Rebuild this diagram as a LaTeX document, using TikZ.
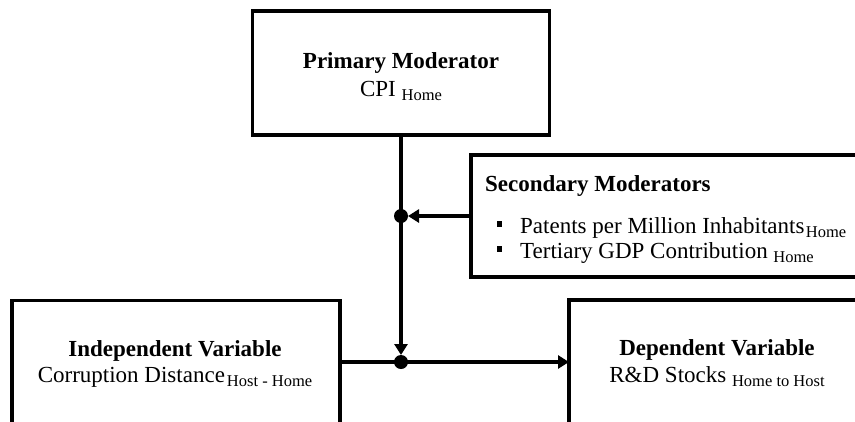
\documentclass[tikz,border=0pt]{standalone}
\usepackage{fontspec}
\setmainfont{Liberation Serif}
\usetikzlibrary{arrows.meta,calc}
\newcommand{\sbs}[1]{\raisebox{-4pt}{\fontsize{16.5}{18}\selectfont #1}}
\newcommand{\sqbul}{\rule[7pt]{5.5pt}{5.5pt}}
\tikzset{
  box/.style={draw=black, line width=3.5pt, rectangle, inner sep=0pt, outer sep=0pt, fill=white},
  txt/.style={anchor=base, inner sep=0pt, font=\fontsize{23}{27}\selectfont},
  conn/.style={line width=3.5pt},
  arr/.style={conn, -{Triangle[length=11pt,width=13pt]}},
  junct/.style={fill=black}
}
\begin{document}
\begin{tikzpicture}[x=1pt,y=-1pt]
\useasboundingbox (0,0) rectangle (855,421);
\clip (0,0) rectangle (855,421);
\fill[white] (0,0) rectangle (855,421);
% boxes
\node[box, minimum width=297pt, minimum height=124pt] (prim) at (401,73) {};
\node[box, minimum width=429pt, minimum height=122pt] (sec) at (685.5,216) {};
\node[box, minimum width=328pt, minimum height=150pt] (indep) at (176,375.7) {};
\node[box, minimum width=331pt, minimum height=150pt] (dep) at (734.5,375) {};
% texts
\node[txt] (ptitle) at (401,68) {\textbf{Primary Moderator}};
\node[txt] (pvar) at (401,96) {CPI \sbs{Home}};
\node[txt, anchor=base west] (stitle) at (485,191) {\textbf{Secondary Moderators}};
\node[txt, anchor=base west] (s1) at (496.5,233.5) {\sqbul\hspace{18pt}Patents per Million Inhabitants\hspace{1.5pt}\sbs{Home}};
\node[txt, anchor=base west] (s2) at (496.5,258.5) {\sqbul\hspace{18pt}Tertiary GDP Contribution \sbs{Home}};
\node[txt] (ititle) at (175,356) {\textbf{Independent Variable}};
\node[txt] (ivar) at (175,382.7) {Corruption Distance\hspace{2pt}\sbs{Host - Home}};
\node[txt] (dtitle) at (717,355) {\textbf{Dependent Variable}};
\node[txt] (dvar) at (717,382.7) {R\&D Stocks \sbs{Home to Host}};
% junctions
\coordinate (d1) at (401,216);
\coordinate (d2) at (401,362);
% connectors
\draw[arr, shorten >=7pt] (prim.south) -- (d2);
\draw[arr, shorten >=7pt] (sec.west |- d1) -- (d1);
\draw[conn] (indep.east |- d2) -- (d2);
\draw[arr] (d2) -- (dep.west |- d2);
\fill[junct] (d1) circle (7pt);
\fill[junct] (d2) circle (7pt);
\end{tikzpicture}
\end{document}
